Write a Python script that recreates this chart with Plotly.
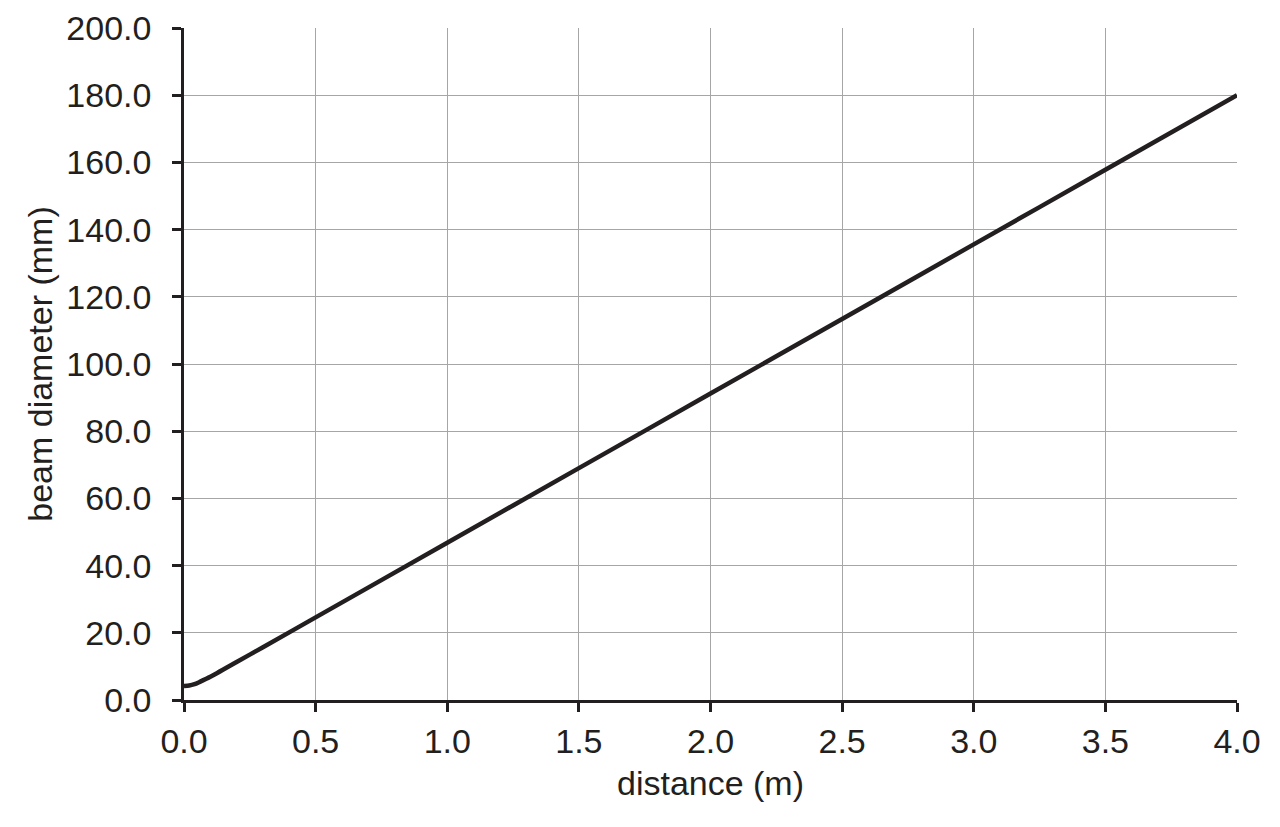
import plotly.graph_objects as go

distance_m = [0.0, 0.02, 0.04, 0.06, 0.1, 0.2, 0.3, 0.5, 1.0, 1.5, 2.0, 2.5, 3.0, 3.5, 4.0]
beam_diameter_mm = [4.2, 4.3, 4.7, 5.4, 6.9, 11.3, 15.7, 24.6, 46.8, 69.0, 91.2, 113.4, 135.6, 157.8, 180.0]

x_ticks = [0.0, 0.5, 1.0, 1.5, 2.0, 2.5, 3.0, 3.5, 4.0]
y_ticks = [0, 20, 40, 60, 80, 100, 120, 140, 160, 180, 200]

ink = "#231f20"
font = dict(family="Liberation Sans, Arial, sans-serif", size=34, color=ink)

fig = go.Figure()
fig.add_trace(go.Scatter(
    x=distance_m, y=beam_diameter_mm, mode="lines",
    line=dict(color=ink, width=4.5, shape="spline", smoothing=0.6),
    showlegend=False, hoverinfo="skip",
))

fig.update_layout(
    width=1280, height=827,
    margin=dict(l=176, r=51, t=20, b=135),
    paper_bgcolor="white", plot_bgcolor="white",
    font=font,
)
fig.update_xaxes(
    range=[0, 4], tickvals=x_ticks, ticktext=[f"{v:.1f}" for v in x_ticks],
    showgrid=True, gridcolor="#a6a6a6", gridwidth=1.3,
    showline=True, linecolor=ink, linewidth=2.5,
    ticks="outside", ticklen=9, tickwidth=2.5, tickcolor=ink,
    ticklabelstandoff=0,
    zeroline=False, automargin=False,
    title=dict(text="distance (m)", font=font, standoff=13),
)
fig.update_yaxes(
    range=[0, 200], tickvals=y_ticks, ticktext=[f"{v:.1f}" for v in y_ticks],
    showgrid=True, gridcolor="#a6a6a6", gridwidth=1.3,
    showline=True, linecolor=ink, linewidth=2.5,
    ticks="outside", ticklen=9, tickwidth=2.5, tickcolor=ink,
    ticklabelstandoff=14,
    zeroline=False, automargin=False,
    title=dict(text="beam diameter (mm)", font=font, standoff=4),
)

fig.write_html("out.html")
